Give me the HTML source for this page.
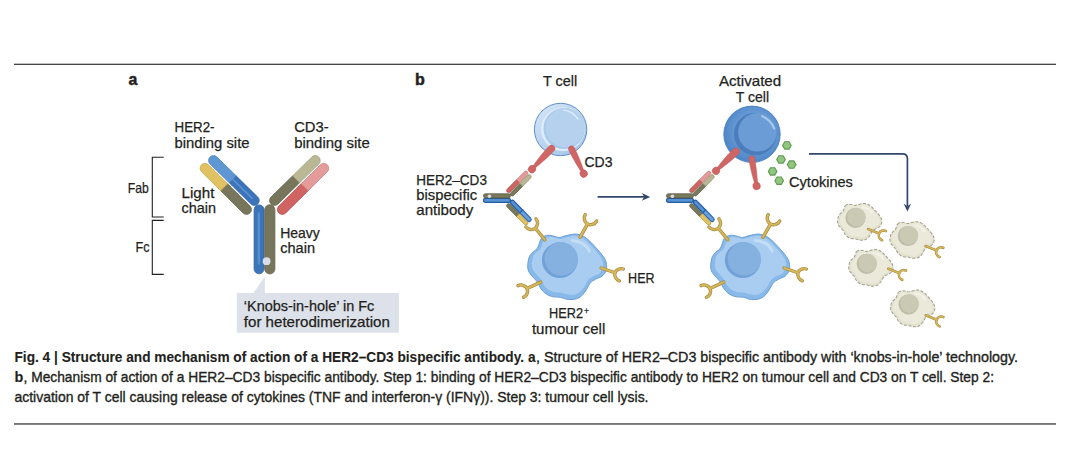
<!DOCTYPE html>
<html><head><meta charset="utf-8"><style>
html,body{margin:0;padding:0;background:#fff;width:1066px;height:462px;overflow:hidden}
svg{display:block}
text{font-family:"Liberation Sans", sans-serif}
</style></head><body>
<svg width="1066" height="462" viewBox="0 0 1066 462">
<defs>
<g id="ab"><path d="M-14.45,1.02 L-36.86,-21.23 L-43.76,-14.27 L-21.35,7.98 A4.90,4.90 0 0 0 -14.45,1.02 Z" fill="#77765c" stroke="#66654d" stroke-width="0.8"/><path d="M-36.86,-21.23 L-55.95,-40.18 A4.90,4.90 0 0 0 -62.85,-33.22 L-43.76,-14.27 Z" fill="#e0c263" stroke="#c7a94c" stroke-width="0.8"/><path d="M-6.67,-8.00 L-28.29,-29.20 L-35.15,-22.20 L-13.53,-1.00 A4.90,4.90 0 0 0 -6.67,-8.00 Z" fill="#3b74b8" stroke="#2f64a6" stroke-width="0.8"/><path d="M-28.29,-29.20 L-47.47,-48.00 A4.90,4.90 0 0 0 -54.33,-41.00 L-35.15,-22.20 Z" fill="#5e97d2" stroke="#4a82c4" stroke-width="0.8"/><line x1="-12.20" y1="-6.56" x2="-31.37" y2="-25.35" stroke="#5a93d0" stroke-width="1.6" stroke-linecap="round"/><path d="M21.35,7.98 L43.76,-14.27 L36.86,-21.23 L14.45,1.02 A4.90,4.90 0 0 0 21.35,7.98 Z" fill="#cf6462" stroke="#b9504e" stroke-width="0.8"/><path d="M43.76,-14.27 L62.85,-33.22 A4.90,4.90 0 0 0 55.95,-40.18 L36.86,-21.23 Z" fill="#e49c9a" stroke="#d47e7c" stroke-width="0.8"/><path d="M13.53,-1.00 L35.15,-22.20 L28.29,-29.20 L6.67,-8.00 A4.90,4.90 0 0 0 13.53,-1.00 Z" fill="#77765c" stroke="#66654d" stroke-width="0.8"/><path d="M35.15,-22.20 L54.33,-41.00 A4.90,4.90 0 0 0 47.47,-48.00 L28.29,-29.20 Z" fill="#bab795" stroke="#a4a07f" stroke-width="0.8"/><path d="M-10.30,4.85 L-10.30,63.85 A4.95,4.95 0 0 0 -0.40,63.85 L-0.40,4.85 A4.95,4.95 0 0 0 -10.30,4.85 Z" fill="#3b74b8" stroke="#2f64a6" stroke-width="0.8"/><line x1="-5.6" y1="8" x2="-5.6" y2="58.85" stroke="#4f8acb" stroke-width="2.4" stroke-linecap="round"/><line x1="-5.4" y1="9" x2="-5.4" y2="56.85" stroke="#6399d4" stroke-width="0.9" stroke-linecap="round"/><path d="M0.30,4.85 L0.30,63.85 A5.10,5.10 0 0 0 10.50,63.85 L10.50,4.85 A5.10,5.10 0 0 0 0.30,4.85 Z" fill="#77765c" stroke="#66654d" stroke-width="0.8"/></g>
<g id="ab2"><path d="M-14.55,1.13 L-36.96,-21.12 L-43.66,-14.38 L-21.25,7.87 A4.75,4.75 0 0 0 -14.55,1.13 Z" fill="#7a795c" stroke="#5a5944" stroke-width="1.8"/><path d="M-36.96,-21.12 L-56.05,-40.07 A4.75,4.75 0 0 0 -62.75,-33.33 L-43.66,-14.38 Z" fill="#e0c263" stroke="#b39236" stroke-width="1.8"/><path d="M-6.77,-7.89 L-28.40,-29.09 L-35.05,-22.31 L-13.43,-1.11 A4.75,4.75 0 0 0 -6.77,-7.89 Z" fill="#5592d2" stroke="#245aa2" stroke-width="2.8"/><path d="M-28.40,-29.09 L-47.57,-47.89 A4.75,4.75 0 0 0 -54.23,-41.11 L-35.05,-22.31 Z" fill="#69a2dc" stroke="#2f68b2" stroke-width="2.8"/><path d="M21.25,7.87 L43.66,-14.38 L36.96,-21.12 L14.55,1.13 A4.75,4.75 0 0 0 21.25,7.87 Z" fill="#cf6462" stroke="#ad4846" stroke-width="1.8"/><path d="M43.66,-14.38 L62.75,-33.33 A4.75,4.75 0 0 0 56.05,-40.07 L36.96,-21.12 Z" fill="#e49c9a" stroke="#c9706e" stroke-width="1.8"/><path d="M13.43,-1.11 L35.05,-22.31 L28.40,-29.09 L6.77,-7.89 A4.75,4.75 0 0 0 13.43,-1.11 Z" fill="#7a795c" stroke="#5a5944" stroke-width="1.8"/><path d="M35.05,-22.31 L54.23,-41.11 A4.75,4.75 0 0 0 47.57,-47.89 L28.40,-29.09 Z" fill="#bab795" stroke="#8f8b6b" stroke-width="1.8"/><path d="M-10.15,4.85 L-10.15,59.50 A4.80,4.80 0 0 0 -0.55,59.50 L-0.55,4.85 A4.80,4.80 0 0 0 -10.15,4.85 Z" fill="#5592d2" stroke="#245aa2" stroke-width="2.8"/><path d="M0.45,4.85 L0.45,59.50 A4.95,4.95 0 0 0 10.35,59.50 L10.35,4.85 A4.95,4.95 0 0 0 0.45,4.85 Z" fill="#7a795c" stroke="#5a5944" stroke-width="1.8"/></g>
</defs>
<rect x="14" y="63.7" width="1042" height="1.2" fill="#333333"/>
<rect x="14" y="423.1" width="1042" height="1.7" fill="#686868"/>
<text x="128.50" y="84.70" font-size="17" font-weight="bold" text-anchor="start" fill="#231f20" textLength="8.80" lengthAdjust="spacingAndGlyphs" stroke="#231f20" stroke-width="0.5">a</text>
<text x="415.00" y="84.70" font-size="17" font-weight="bold" text-anchor="start" fill="#231f20" textLength="9.80" lengthAdjust="spacingAndGlyphs" stroke="#231f20" stroke-width="0.5">b</text>
<path d="M163.7,157.3 H152.3 V217 H163.7" fill="none" stroke="#231f20" stroke-width="1.1"/>
<path d="M163.7,220.4 H152.3 V274.4 H163.7" fill="none" stroke="#231f20" stroke-width="1.1"/>
<text x="127.70" y="192.70" font-size="14.5" font-weight="normal" text-anchor="start" fill="#231f20" textLength="21.00" lengthAdjust="spacingAndGlyphs" stroke="#231f20" stroke-width="0.25">Fab</text>
<text x="135.50" y="251.90" font-size="14.5" font-weight="normal" text-anchor="start" fill="#231f20" textLength="14.00" lengthAdjust="spacingAndGlyphs" stroke="#231f20" stroke-width="0.25">Fc</text>
<text x="174.50" y="131.90" font-size="14.5" font-weight="normal" text-anchor="start" fill="#231f20" textLength="40.00" lengthAdjust="spacingAndGlyphs" stroke="#231f20" stroke-width="0.25">HER2-</text>
<text x="174.50" y="147.60" font-size="14.5" font-weight="normal" text-anchor="start" fill="#231f20" textLength="75.00" lengthAdjust="spacingAndGlyphs" stroke="#231f20" stroke-width="0.25">binding site</text>
<text x="294.20" y="131.90" font-size="14.5" font-weight="normal" text-anchor="start" fill="#231f20" textLength="34.50" lengthAdjust="spacingAndGlyphs" stroke="#231f20" stroke-width="0.25">CD3-</text>
<text x="294.20" y="147.60" font-size="14.5" font-weight="normal" text-anchor="start" fill="#231f20" textLength="75.50" lengthAdjust="spacingAndGlyphs" stroke="#231f20" stroke-width="0.25">binding site</text>
<text x="181.60" y="197.90" font-size="14.5" font-weight="normal" text-anchor="start" fill="#231f20" textLength="32.80" lengthAdjust="spacingAndGlyphs" stroke="#231f20" stroke-width="0.25">Light</text>
<text x="181.60" y="213.30" font-size="14.5" font-weight="normal" text-anchor="start" fill="#231f20" textLength="34.50" lengthAdjust="spacingAndGlyphs" stroke="#231f20" stroke-width="0.25">chain</text>
<text x="280.20" y="237.70" font-size="14.5" font-weight="normal" text-anchor="start" fill="#231f20" textLength="39.60" lengthAdjust="spacingAndGlyphs" stroke="#231f20" stroke-width="0.25">Heavy</text>
<text x="280.20" y="253.30" font-size="14.5" font-weight="normal" text-anchor="start" fill="#231f20" textLength="34.80" lengthAdjust="spacingAndGlyphs" stroke="#231f20" stroke-width="0.25">chain</text>
<use href="#ab" transform="translate(264.4,205)"/>
<circle cx="266.6" cy="261.2" r="3.9" fill="#dadde7"/>
<path d="M236.8,292.9 H398.9 V332.7 H236.8 Z M253.5,293 L264.8,276.4 L264.8,293 Z" fill="#dde1e9"/>
<text x="243.80" y="311.00" font-size="14.5" font-weight="normal" text-anchor="start" fill="#231f20" textLength="130.50" lengthAdjust="spacingAndGlyphs" stroke="#231f20" stroke-width="0.25">‘Knobs-in-hole’ in Fc</text>
<text x="243.80" y="326.60" font-size="14.5" font-weight="normal" text-anchor="start" fill="#231f20" textLength="146.00" lengthAdjust="spacingAndGlyphs" stroke="#231f20" stroke-width="0.25">for heterodimerization</text>
<defs>
<g id="tum"><path d="M-18.50,-21.20 C-17.32,-22.50 -15.18,-23.77 -13.30,-24.20 C-11.42,-24.63 -9.23,-24.15 -7.20,-23.80 C-5.17,-23.45 -3.00,-22.17 -1.10,-22.10 C0.80,-22.03 2.12,-22.90 4.20,-23.40 C6.28,-23.90 9.33,-24.75 11.40,-25.10 C13.47,-25.45 14.58,-25.78 16.60,-25.50 C18.62,-25.22 21.48,-24.40 23.50,-23.40 C25.52,-22.40 26.82,-21.17 28.70,-19.50 C30.58,-17.83 32.77,-15.57 34.80,-13.40 C36.83,-11.23 39.17,-8.67 40.90,-6.50 C42.63,-4.33 44.23,-2.28 45.20,-0.40 C46.17,1.48 46.52,2.88 46.70,4.80 C46.88,6.72 46.98,9.18 46.30,11.10 C45.62,13.02 44.37,14.87 42.60,16.30 C40.83,17.73 37.72,18.55 35.70,19.70 C33.68,20.85 31.95,21.60 30.50,23.20 C29.05,24.80 28.30,27.28 27.00,29.30 C25.70,31.32 24.28,33.68 22.70,35.30 C21.12,36.92 19.38,38.23 17.50,39.00 C15.62,39.77 13.28,39.82 11.40,39.90 C9.52,39.98 8.00,39.87 6.20,39.50 C4.40,39.13 2.98,38.13 0.60,37.70 C-1.78,37.27 -5.50,37.62 -8.10,36.90 C-10.70,36.18 -13.13,34.82 -15.00,33.40 C-16.87,31.98 -18.15,30.10 -19.30,28.40 C-20.45,26.70 -20.73,24.93 -21.90,23.20 C-23.07,21.47 -24.85,19.73 -26.30,18.00 C-27.75,16.27 -29.63,14.53 -30.60,12.80 C-31.57,11.07 -31.92,9.33 -32.10,7.60 C-32.28,5.87 -31.98,4.17 -31.70,2.40 C-31.42,0.63 -31.17,-1.38 -30.40,-3.00 C-29.63,-4.62 -28.37,-6.00 -27.10,-7.30 C-25.83,-8.60 -23.92,-9.28 -22.80,-10.80 C-21.68,-12.32 -21.12,-14.67 -20.40,-16.40 C-19.68,-18.13 -19.68,-19.90 -18.50,-21.20 Z" fill="#88b9e9" stroke="#6a9fd8" stroke-width="1"/><path d="M-15.65,-19.88 C-14.58,-21.05 -12.66,-22.19 -10.97,-22.58 C-9.27,-22.97 -7.31,-22.54 -5.48,-22.22 C-3.65,-21.91 -1.70,-20.75 0.01,-20.69 C1.72,-20.63 2.91,-21.41 4.78,-21.86 C6.66,-22.31 9.40,-23.08 11.26,-23.39 C13.12,-23.71 14.13,-24.01 15.94,-23.75 C17.76,-23.50 20.33,-22.76 22.15,-21.86 C23.97,-20.96 25.14,-19.85 26.83,-18.35 C28.53,-16.85 30.49,-14.81 32.32,-12.86 C34.15,-10.91 36.25,-8.60 37.81,-6.65 C39.37,-4.70 40.81,-2.86 41.68,-1.16 C42.55,0.53 42.87,1.79 43.03,3.52 C43.20,5.24 43.29,7.46 42.67,9.19 C42.06,10.91 40.93,12.58 39.34,13.87 C37.75,15.16 34.95,15.89 33.13,16.93 C31.32,17.96 29.76,18.64 28.45,20.08 C27.14,21.52 26.47,23.75 25.30,25.57 C24.13,27.38 22.86,29.51 21.43,30.97 C20.01,32.42 18.44,33.61 16.75,34.30 C15.06,34.99 12.96,35.03 11.26,35.11 C9.57,35.18 8.20,35.08 6.58,34.75 C4.96,34.42 3.69,33.52 1.54,33.13 C-0.60,32.74 -3.95,33.05 -6.29,32.41 C-8.63,31.76 -10.82,30.53 -12.50,29.26 C-14.18,27.98 -15.33,26.29 -16.37,24.76 C-17.40,23.23 -17.66,21.64 -18.71,20.08 C-19.76,18.52 -21.36,16.96 -22.67,15.40 C-23.97,13.84 -25.67,12.28 -26.54,10.72 C-27.41,9.16 -27.72,7.60 -27.89,6.04 C-28.05,4.48 -27.78,2.95 -27.53,1.36 C-27.27,-0.23 -27.05,-2.05 -26.36,-3.50 C-25.67,-4.95 -24.53,-6.20 -23.39,-7.37 C-22.25,-8.54 -20.52,-9.16 -19.52,-10.52 C-18.51,-11.89 -18.00,-14.00 -17.36,-15.56 C-16.71,-17.12 -16.72,-18.71 -15.65,-19.88 Z" fill="#a8cdf0"/><path d="M12.5,-19 Q25,-18 29.5,-8.5" fill="none" stroke="#c3ddf5" stroke-width="3.0" stroke-linecap="round"/><circle cx="0" cy="0.6" r="17.9" fill="#72a1d8"/><circle cx="1.5" cy="-0.7" r="16.6" fill="#85b1e1"/></g>
<g id="dead"><path d="M-18.50,-21.20 C-17.32,-22.50 -15.18,-23.77 -13.30,-24.20 C-11.42,-24.63 -9.23,-24.15 -7.20,-23.80 C-5.17,-23.45 -3.00,-22.17 -1.10,-22.10 C0.80,-22.03 2.12,-22.90 4.20,-23.40 C6.28,-23.90 9.33,-24.75 11.40,-25.10 C13.47,-25.45 14.58,-25.78 16.60,-25.50 C18.62,-25.22 21.48,-24.40 23.50,-23.40 C25.52,-22.40 26.82,-21.17 28.70,-19.50 C30.58,-17.83 32.77,-15.57 34.80,-13.40 C36.83,-11.23 39.17,-8.67 40.90,-6.50 C42.63,-4.33 44.23,-2.28 45.20,-0.40 C46.17,1.48 46.52,2.88 46.70,4.80 C46.88,6.72 46.98,9.18 46.30,11.10 C45.62,13.02 44.37,14.87 42.60,16.30 C40.83,17.73 37.72,18.55 35.70,19.70 C33.68,20.85 31.95,21.60 30.50,23.20 C29.05,24.80 28.30,27.28 27.00,29.30 C25.70,31.32 24.28,33.68 22.70,35.30 C21.12,36.92 19.38,38.23 17.50,39.00 C15.62,39.77 13.28,39.82 11.40,39.90 C9.52,39.98 8.00,39.87 6.20,39.50 C4.40,39.13 2.98,38.13 0.60,37.70 C-1.78,37.27 -5.50,37.62 -8.10,36.90 C-10.70,36.18 -13.13,34.82 -15.00,33.40 C-16.87,31.98 -18.15,30.10 -19.30,28.40 C-20.45,26.70 -20.73,24.93 -21.90,23.20 C-23.07,21.47 -24.85,19.73 -26.30,18.00 C-27.75,16.27 -29.63,14.53 -30.60,12.80 C-31.57,11.07 -31.92,9.33 -32.10,7.60 C-32.28,5.87 -31.98,4.17 -31.70,2.40 C-31.42,0.63 -31.17,-1.38 -30.40,-3.00 C-29.63,-4.62 -28.37,-6.00 -27.10,-7.30 C-25.83,-8.60 -23.92,-9.28 -22.80,-10.80 C-21.68,-12.32 -21.12,-14.67 -20.40,-16.40 C-19.68,-18.13 -19.68,-19.90 -18.50,-21.20 Z" fill="#e3e1cf" stroke="#a2a08a" stroke-width="1.8" stroke-dasharray="5.5,2.8"/><path d="M-15.65,-19.88 C-14.58,-21.05 -12.66,-22.19 -10.97,-22.58 C-9.27,-22.97 -7.31,-22.54 -5.48,-22.22 C-3.65,-21.91 -1.70,-20.75 0.01,-20.69 C1.72,-20.63 2.91,-21.41 4.78,-21.86 C6.66,-22.31 9.40,-23.08 11.26,-23.39 C13.12,-23.71 14.13,-24.01 15.94,-23.75 C17.76,-23.50 20.33,-22.76 22.15,-21.86 C23.97,-20.96 25.14,-19.85 26.83,-18.35 C28.53,-16.85 30.49,-14.81 32.32,-12.86 C34.15,-10.91 36.25,-8.60 37.81,-6.65 C39.37,-4.70 40.81,-2.86 41.68,-1.16 C42.55,0.53 42.87,1.79 43.03,3.52 C43.20,5.24 43.29,7.46 42.67,9.19 C42.06,10.91 40.93,12.58 39.34,13.87 C37.75,15.16 34.95,15.89 33.13,16.93 C31.32,17.96 29.76,18.64 28.45,20.08 C27.14,21.52 26.47,23.75 25.30,25.57 C24.13,27.38 22.86,29.51 21.43,30.97 C20.01,32.42 18.44,33.61 16.75,34.30 C15.06,34.99 12.96,35.03 11.26,35.11 C9.57,35.18 8.20,35.08 6.58,34.75 C4.96,34.42 3.69,33.52 1.54,33.13 C-0.60,32.74 -3.95,33.05 -6.29,32.41 C-8.63,31.76 -10.82,30.53 -12.50,29.26 C-14.18,27.98 -15.33,26.29 -16.37,24.76 C-17.40,23.23 -17.66,21.64 -18.71,20.08 C-19.76,18.52 -21.36,16.96 -22.67,15.40 C-23.97,13.84 -25.67,12.28 -26.54,10.72 C-27.41,9.16 -27.72,7.60 -27.89,6.04 C-28.05,4.48 -27.78,2.95 -27.53,1.36 C-27.27,-0.23 -27.05,-2.05 -26.36,-3.50 C-25.67,-4.95 -24.53,-6.20 -23.39,-7.37 C-22.25,-8.54 -20.52,-9.16 -19.52,-10.52 C-18.51,-11.89 -18.00,-14.00 -17.36,-15.56 C-16.71,-17.12 -16.72,-18.71 -15.65,-19.88 Z" fill="#ebe9da"/><path d="M12.5,-19 Q25,-18 29.5,-8.5" fill="none" stroke="#f3f2e8" stroke-width="3.5" stroke-linecap="round"/><circle cx="0" cy="0" r="18" fill="#bdbca6"/><circle cx="1.6" cy="-1.4" r="16.6" fill="#cac9b4"/></g>
<g id="rec"><path d="M0,0 L0,-14.2 M-6.1,-20.8 A6.1,6.5 0 0 0 6.1,-20.8" fill="none" stroke="#a6873a" stroke-width="3.2" stroke-linecap="round"/><path d="M0,0 L0,-14.2 M-6.1,-20.8 A6.1,6.5 0 0 0 6.1,-20.8" fill="none" stroke="#d5b75c" stroke-width="1.9" stroke-linecap="round"/></g>
</defs>
<use href="#tum" transform="translate(559.80,259.60) rotate(0.00) scale(1.000)"/>
<use href="#rec" transform="translate(544.90,239.90) rotate(-39.40) scale(1.060)"/>
<use href="#rec" transform="translate(580.00,237.30) rotate(29.40) scale(1.070)"/>
<use href="#rec" transform="translate(601.10,268.00) rotate(108.80) scale(1.030)"/>
<use href="#rec" transform="translate(540.70,282.10) rotate(-115.20) scale(1.060)"/>
<use href="#ab2" transform="matrix(0,-0.42,-0.42,0,510.5,198.1)"/>
<circle cx="489.4" cy="196.3" r="1.8" fill="#dadde7"/>
<use href="#tum" transform="translate(742.80,259.60) rotate(0.00) scale(1.000)"/>
<use href="#rec" transform="translate(727.90,239.90) rotate(-39.40) scale(1.060)"/>
<use href="#rec" transform="translate(763.00,237.30) rotate(29.40) scale(1.070)"/>
<use href="#rec" transform="translate(784.10,268.00) rotate(108.80) scale(1.030)"/>
<use href="#rec" transform="translate(723.70,282.10) rotate(-115.20) scale(1.060)"/>
<use href="#ab2" transform="matrix(0,-0.42,-0.42,0,693.5,198.1)"/>
<circle cx="672.4" cy="196.3" r="1.8" fill="#dadde7"/>
<defs><linearGradient id="tc1" x1="0.2" y1="0.1" x2="0.8" y2="0.9"><stop offset="0" stop-color="#cfe2f5"/><stop offset="1" stop-color="#a8c8ea"/></linearGradient></defs>
<circle cx="560.6" cy="129.5" r="26.2" fill="url(#tc1)" stroke="#4f86c6" stroke-width="0.9"/>
<circle cx="563.0" cy="129.2" r="21.9" fill="#ddedf9"/>
<circle cx="564.1" cy="128.5" r="20.6" fill="#a9c9ea"/>
<circle cx="565.0" cy="127.8" r="19.5" fill="#b5d1ed"/>
<path d="M564,110 Q573,111.5 578,119" fill="none" stroke="#dcebf9" stroke-width="1.5" stroke-linecap="round"/>
<g transform="translate(551.50,148.50) rotate(43.29)"><path d="M-3.4,0 A3.4,3.4 0 0 1 3.4,0 C3.40,12.80 2.00,20.44 1.5,25.44 L-1.5,25.44 C-2.0,20.44 -3.40,12.80 -3.4,0 Z" fill="#d06664" stroke="#c05654" stroke-width="0.5"/><circle cx="0" cy="28.44" r="3.7" fill="#d06664" stroke="#c05654" stroke-width="0.5"/></g>
<g transform="translate(571.50,148.80) rotate(-26.10)"><path d="M-3.0,0 A3.0,3.0 0 0 1 3.0,0 C3.00,12.48 2.00,19.73 1.5,24.73 L-1.5,24.73 C-2.0,19.73 -3.00,12.48 -3.0,0 Z" fill="#d06664" stroke="#c05654" stroke-width="0.5"/><circle cx="0" cy="27.73" r="3.7" fill="#d06664" stroke="#c05654" stroke-width="0.5"/></g>
<defs><radialGradient id="atc" cx="0.55" cy="0.45" r="0.55"><stop offset="0.6" stop-color="#679ad5"/><stop offset="1" stop-color="#4f86c6"/></radialGradient></defs>
<circle cx="752" cy="134.3" r="28.2" fill="url(#atc)" stroke="#4a80c2" stroke-width="0.9"/>
<circle cx="755.3" cy="134.0" r="21.3" fill="#4b7cbc"/>
<circle cx="757.4" cy="132.3" r="19.3" fill="#6b9cd5"/>
<path d="M762.3,116.2 Q770.5,119.5 774.2,128.5" fill="none" stroke="#a9c8ec" stroke-width="2.2" stroke-linecap="round"/>
<g transform="translate(736.00,151.40) rotate(45.73)"><path d="M-3.5,0 A3.5,3.5 0 0 1 3.5,0 C3.50,12.57 2.00,19.93 1.5,24.93 L-1.5,24.93 C-2.0,19.93 -3.50,12.57 -3.5,0 Z" fill="#d06664" stroke="#c05654" stroke-width="0.5"/><circle cx="0" cy="27.93" r="3.7" fill="#d06664" stroke="#c05654" stroke-width="0.5"/></g>
<g transform="translate(751.70,158.60) rotate(-10.14)"><path d="M-2.9,0 A2.9,2.9 0 0 1 2.9,0 C2.90,12.53 2.00,19.83 1.5,24.83 L-1.5,24.83 C-2.0,19.83 -2.90,12.53 -2.9,0 Z" fill="#d06664" stroke="#c05654" stroke-width="0.5"/><circle cx="0" cy="27.83" r="3.7" fill="#d06664" stroke="#c05654" stroke-width="0.5"/></g>
<polygon points="791.20,145.40 789.05,149.12 784.75,149.12 782.60,145.40 784.75,141.68 789.05,141.68" fill="#92c580" stroke="#5c9b50" stroke-width="1.1"/>
<polygon points="785.30,159.40 783.15,163.12 778.85,163.12 776.70,159.40 778.85,155.68 783.15,155.68" fill="#92c580" stroke="#5c9b50" stroke-width="1.1"/>
<polygon points="795.90,164.60 793.75,168.32 789.45,168.32 787.30,164.60 789.45,160.88 793.75,160.88" fill="#92c580" stroke="#5c9b50" stroke-width="1.1"/>
<polygon points="776.90,171.40 774.75,175.12 770.45,175.12 768.30,171.40 770.45,167.68 774.75,167.68" fill="#92c580" stroke="#5c9b50" stroke-width="1.1"/>
<polygon points="783.50,180.70 781.35,184.42 777.05,184.42 774.90,180.70 777.05,176.98 781.35,176.98" fill="#92c580" stroke="#5c9b50" stroke-width="1.1"/>
<line x1="597.6" y1="196.9" x2="646" y2="196.9" stroke="#33476b" stroke-width="1.8"/>
<path d="M650.2,196.9 L641.8,193.0 L644.3,196.9 L641.8,200.8 Z" fill="#33476b"/>
<path d="M809,153.9 H902.5 Q907.4,153.9 907.4,158.8 V206" fill="none" stroke="#33476b" stroke-width="1.7"/>
<path d="M907.4,211.5 L903.6,203.6 L907.4,206.2 L911.2,203.6 Z" fill="#33476b"/>
<use href="#dead" transform="translate(855.50,217.80) rotate(0.00) scale(0.560)"/>
<use href="#dead" transform="translate(907.90,236.00) rotate(0.00) scale(0.560)"/>
<use href="#dead" transform="translate(866.70,263.80) rotate(0.00) scale(0.560)"/>
<use href="#dead" transform="translate(908.60,304.40) rotate(0.00) scale(0.560)"/>
<use href="#rec" transform="translate(868.20,229.10) rotate(112.20) scale(0.820)"/>
<use href="#rec" transform="translate(925.60,246.00) rotate(112.20) scale(0.820)"/>
<use href="#rec" transform="translate(888.40,268.70) rotate(112.20) scale(0.820)"/>
<use href="#rec" transform="translate(925.80,315.30) rotate(112.20) scale(0.820)"/>
<text x="543.00" y="85.70" font-size="14.5" font-weight="normal" text-anchor="start" fill="#231f20" textLength="34.30" lengthAdjust="spacingAndGlyphs" stroke="#231f20" stroke-width="0.25">T cell</text>
<text x="718.90" y="85.90" font-size="14.5" font-weight="normal" text-anchor="start" fill="#231f20" textLength="62.30" lengthAdjust="spacingAndGlyphs" stroke="#231f20" stroke-width="0.25">Activated</text>
<text x="735.80" y="101.50" font-size="14.5" font-weight="normal" text-anchor="start" fill="#231f20" textLength="33.30" lengthAdjust="spacingAndGlyphs" stroke="#231f20" stroke-width="0.25">T cell</text>
<text x="416.30" y="184.50" font-size="14.5" font-weight="normal" text-anchor="start" fill="#231f20" textLength="70.60" lengthAdjust="spacingAndGlyphs" stroke="#231f20" stroke-width="0.25">HER2–CD3</text>
<text x="416.30" y="200.00" font-size="14.5" font-weight="normal" text-anchor="start" fill="#231f20" textLength="60.90" lengthAdjust="spacingAndGlyphs" stroke="#231f20" stroke-width="0.25">bispecific</text>
<text x="416.30" y="215.00" font-size="14.5" font-weight="normal" text-anchor="start" fill="#231f20" textLength="57.00" lengthAdjust="spacingAndGlyphs" stroke="#231f20" stroke-width="0.25">antibody</text>
<text x="584.50" y="166.80" font-size="14.5" font-weight="normal" text-anchor="start" fill="#231f20" textLength="28.00" lengthAdjust="spacingAndGlyphs" stroke="#231f20" stroke-width="0.25">CD3</text>
<text x="628.10" y="282.90" font-size="14.5" font-weight="normal" text-anchor="start" fill="#231f20" textLength="26.50" lengthAdjust="spacingAndGlyphs" stroke="#231f20" stroke-width="0.25">HER</text>
<text x="549.00" y="317.50" font-size="14.5" font-weight="normal" text-anchor="start" fill="#231f20" textLength="34.00" lengthAdjust="spacingAndGlyphs" stroke="#231f20" stroke-width="0.25">HER2</text>
<text x="583.90" y="313.90" font-size="9" font-weight="normal" text-anchor="start" fill="#231f20" textLength="5.00" lengthAdjust="spacingAndGlyphs" stroke="#231f20" stroke-width="0.25">+</text>
<text x="531.90" y="333.70" font-size="14.5" font-weight="normal" text-anchor="start" fill="#231f20" textLength="73.40" lengthAdjust="spacingAndGlyphs" stroke="#231f20" stroke-width="0.25">tumour cell</text>
<text x="789.10" y="186.90" font-size="14.5" font-weight="normal" text-anchor="start" fill="#231f20" textLength="63.80" lengthAdjust="spacingAndGlyphs" stroke="#231f20" stroke-width="0.25">Cytokines</text>
<text x="14.50" y="362.10" font-size="14.2" font-weight="bold" text-anchor="start" fill="#231f20" textLength="521.00" lengthAdjust="spacingAndGlyphs" stroke="#231f20" stroke-width="0.1">Fig. 4 | Structure and mechanism of action of a HER2–CD3 bispecific antibody. a</text>
<text x="536.00" y="362.10" font-size="14.5" font-weight="normal" text-anchor="start" fill="#231f20" textLength="482.00" lengthAdjust="spacingAndGlyphs" stroke="#231f20" stroke-width="0.35">, Structure of HER2–CD3 bispecific antibody with ‘knobs-in-hole’ technology.</text>
<text x="14.50" y="381.50" font-size="14.2" font-weight="bold" text-anchor="start" fill="#231f20" textLength="8.80" lengthAdjust="spacingAndGlyphs" stroke="#231f20" stroke-width="0.1">b</text>
<text x="23.50" y="381.50" font-size="14.5" font-weight="normal" text-anchor="start" fill="#231f20" textLength="970.50" lengthAdjust="spacingAndGlyphs" stroke="#231f20" stroke-width="0.35">, Mechanism of action of a HER2–CD3 bispecific antibody. Step 1: binding of HER2–CD3 bispecific antibody to HER2 on tumour cell and CD3 on T cell. Step 2:</text>
<text x="14.50" y="401.50" font-size="14.5" font-weight="normal" text-anchor="start" fill="#231f20" textLength="634.00" lengthAdjust="spacingAndGlyphs" stroke="#231f20" stroke-width="0.35">activation of T cell causing release of cytokines (TNF and interferon-γ (IFNγ)). Step 3: tumour cell lysis.</text>
</svg>
</body></html>
